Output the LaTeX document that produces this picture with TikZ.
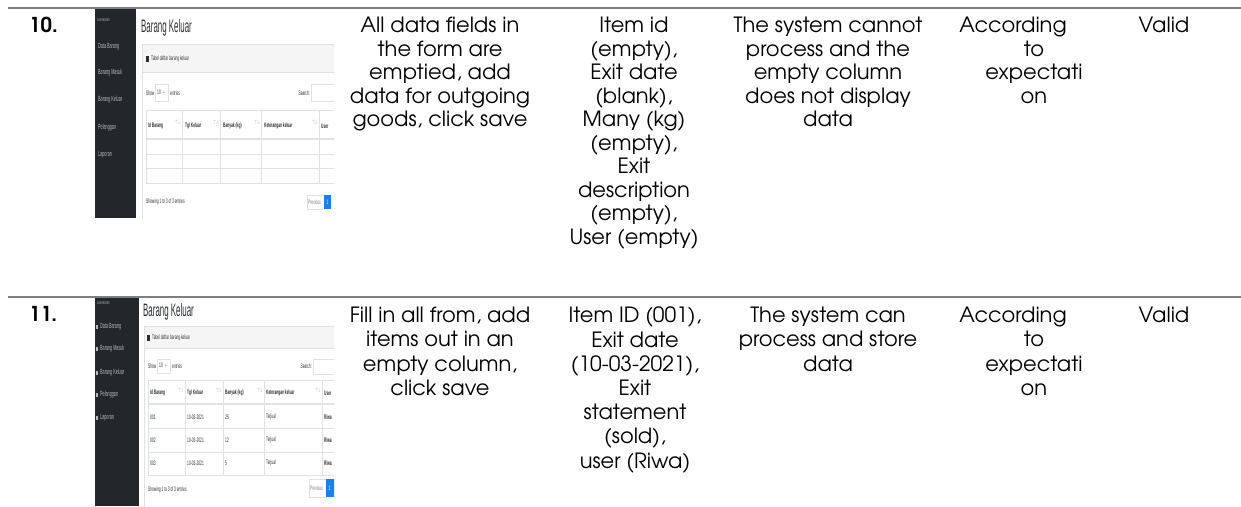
\documentclass[tikz,border=0pt]{standalone}
\usepackage{fontspec}
\setmainfont{TeX Gyre Adventor}
\newfontfamily\uifont{Liberation Sans}
\definecolor{rulegray}{HTML}{7F7F7F}
\definecolor{sidebar}{HTML}{23272B}
\definecolor{menutext}{HTML}{B4B8BC}
\definecolor{cardhead}{HTML}{F5F5F5}
\definecolor{cardline}{HTML}{E0E3E6}
\definecolor{uitext}{HTML}{2A2E33}
\definecolor{btnblue}{HTML}{1A7FF5}
\newcommand\ui[1]{\scalebox{0.5}[1]{#1}}
\tikzset{
  rule/.style={draw=rulegray, line width=1.6pt},
  cell/.style={anchor=north, align=center, inner sep=0pt, font=\fontsize{21}{23.5}\selectfont},
  cellb/.style={cell, font=\fontsize{21}{24.2}\selectfont},
  num/.style={anchor=base west, inner sep=0pt, font=\fontsize{20.5}{24}\selectfont\bfseries},
  menu/.style={anchor=west, inner sep=0pt, text=menutext, font=\uifont\fontsize{7.5}{7.5}\selectfont},
  title/.style={anchor=west, inner sep=0pt, text=uitext, font=\uifont\fontsize{18}{18}\selectfont},
  uiw/.style={anchor=west, inner sep=0pt, text=uitext, font=\uifont\fontsize{6.5}{6.5}\selectfont},
  th/.style={uiw, font=\uifont\fontsize{6.5}{6.5}\selectfont\bfseries},
  sorticon/.style={inner sep=0pt, text=gray!50, font=\fontsize{5}{5}\selectfont},
  uiline/.style={draw=cardline, line width=0.6pt},
}
\begin{document}
\begin{tikzpicture}[x=1pt, y=-1pt]
  \useasboundingbox (0,0) rectangle (1241,506);
  \fill[white] (0,0) rectangle (1241,506);

  % table rules
  \draw[rule] (8,8) -- (1241,8);
  \draw[rule] (8,297) -- (1241,297);

  % row 10
  \node[num] (N10) at (29,32) {10.};

  \begin{scope}
    \clip (95,9) rectangle (334,218);
    \fill[white] (95,9) rectangle (334,218);
    \fill[sidebar] (95,9) rectangle (136,218);
    \node[menu, font=\uifont\fontsize{4}{4}\selectfont] (M10-0) at (97,20) {\ui{DASHBOARD}};
    \foreach \y/\t [count=\i] in {47/Data Barang, 73/Barang Masuk, 100/Barang Keluar, 128/Pelanggan, 155/Laporan}
      \node[menu] (M10-\i) at (98,\y) {\ui{\t}};
    \node[title] (H10) at (141,28) {\scalebox{0.44}[1]{Barang Keluar}};
    \draw[uiline, fill=cardhead] (142,44) rectangle (345,72);
    \draw[uiline] (142,72) rectangle (345,240);
    \fill[uitext] (146,56) rectangle (149,62);
    \node[uiw] (T10) at (151,59) {\ui{Tabel daftar barang keluar}};
    \node[uiw] (SH10) at (146,93) {\ui{Show}};
    \draw[uiline] (155,84) rectangle (168,101);
    \node[uiw] (SB10) at (157,93) {\ui{10 \,$\div$}};
    \node[uiw] (EN10) at (170,93) {\ui{entries}};
    \node[uiw, anchor=east] (SR10) at (310,93) {\ui{Search:}};
    \draw[uiline] (311,84) rectangle (345,101);
    \foreach \x in {146,182,220,261,319}
      \draw[uiline] (\x,110) -- (\x,183);
    \draw[uiline] (146,110) -- (345,110);
    \draw[uiline, line width=1.4pt] (146,139) -- (345,139);
    \foreach \y in {154,168,183}
      \draw[uiline] (146,\y) -- (345,\y);
    \foreach \x/\t [count=\i] in {148/Id Barang, 185/Tgl Keluar, 223/{Banyak (kg)}, 264/Keterangan keluar, 321/User}
      \node[th] (C10-\i) at (\x,126) {\ui{\t}};
    \foreach \x [count=\i] in {178,216,257,315}
      \node[sorticon] (S10-\i) at (\x,122) {$\uparrow\!\downarrow$};
    \node[uiw] (P10) at (146,202) {\ui{Showing 1 to 3 of 3 entries}};
    \draw[uiline] (307,195) rectangle (324,209);
    \node[uiw, text=gray] (PV10) at (308,202) {\ui{Previous}};
    \fill[btnblue] (324,195) rectangle (331,209);
    \node[uiw, text=white] (B10) at (326.5,202) {\ui{1}};
  \end{scope}

  \node[cell] (D10) at (440,17) {All data fields in\\the form are\\emptied, add\\data for outgoing\\goods, click save};
  \node[cell] (I10) at (634,17) {Item id\\(empty),\\Exit date\\(blank),\\Many (kg)\\(empty),\\Exit\\description\\(empty),\\User (empty)};
  \node[cell] (E10) at (828,17) {The system cannot\\process and the\\empty column\\does not display\\data};
  \node[cell] (R10) at (1034,17) {According\hspace*{42pt}\\to\\expectati\\on};
  \node[cell] (V10) at (1164,17) {Valid};

  % row 11
  \node[num] (N11) at (29,321) {11.};

  \begin{scope}
    \clip (95,298) rectangle (334,506);
    \fill[white] (95,298) rectangle (334,506);
    \fill[sidebar] (95,298) rectangle (139,506);
    \node[menu, font=\uifont\fontsize{4}{4}\selectfont] (M11-0) at (97,303) {\ui{DASHBOARD}};
    \foreach \y/\t [count=\i] in {327/Data Barang, 349/Barang Masuk, 373/Barang Keluar, 395/Pelanggan, 418/Laporan} {
      \fill[menutext] (96,\y-2) rectangle (98,\y+2);
      \node[menu] (M11-\i) at (100,\y) {\ui{\t}};
    }
    \node[title] (H11) at (143,312) {\scalebox{0.44}[1]{Barang Keluar}};
    \draw[uiline, fill=cardhead] (144,326) rectangle (345,348);
    \draw[uiline] (144,348) rectangle (345,520);
    \fill[uitext] (147,335) rectangle (150,341);
    \node[uiw] (T11) at (152,338) {\ui{Tabel daftar barang keluar}};
    \node[uiw] (SH11) at (148,366) {\ui{Show}};
    \draw[uiline] (157,359) rectangle (170,373);
    \node[uiw] (SB11) at (159,366) {\ui{10 \,$\div$}};
    \node[uiw] (EN11) at (172,366) {\ui{entries}};
    \node[uiw, anchor=east] (SR11) at (312,366) {\ui{Search:}};
    \draw[uiline] (313,359) rectangle (345,374);
    \foreach \x in {148,185,223,264,322}
      \draw[uiline] (\x,380) -- (\x,475);
    \draw[uiline] (148,380) -- (345,380);
    \draw[uiline, line width=1.4pt] (148,404) -- (345,404);
    \foreach \y in {428,452,475}
      \draw[uiline] (148,\y) -- (345,\y);
    \foreach \x/\t [count=\i] in {150/Id Barang, 187/Tgl Keluar, 225/{Banyak (kg)}, 266/Keterangan keluar, 324/User}
      \node[th] (C11-\i) at (\x,393) {\ui{\t}};
    \foreach \x [count=\i] in {181,219,260,318}
      \node[sorticon] (S11-\i) at (\x,390) {$\uparrow\!\downarrow$};
    \foreach \y/\a/\b in {417/001/25, 440/002/12, 463/003/5} {
      \node[uiw] (R\a-1) at (150,\y) {\ui{\a}};
      \node[uiw] (R\a-2) at (187,\y) {\ui{10-03-2021}};
      \node[uiw] (R\a-3) at (225,\y) {\ui{\b}};
      \node[uiw] (R\a-4) at (266,\y) {\ui{Terjual}};
      \node[uiw, font=\uifont\fontsize{6.5}{6.5}\selectfont\bfseries] (R\a-5) at (324,\y) {\ui{Riwa}};
    }
    \node[uiw] (P11) at (148,490) {\ui{Showing 1 to 3 of 3 entries}};
    \draw[uiline] (309,479) rectangle (326,497);
    \node[uiw, text=gray] (PV11) at (310,488) {\ui{Previous}};
    \fill[btnblue] (326,479) rectangle (336,497);
    \node[uiw, text=white] (B11) at (328.5,488) {\ui{1}};
  \end{scope}

  \node[cellb] (D11) at (440,307) {Fill in all from, add\\items out in an\\empty column,\\click save};
  \node[cellb] (I11) at (635,307) {Item ID (001),\\Exit date\\(10-03-2021),\\Exit\\statement\\(sold),\\user (Riwa)};
  \node[cellb] (E11) at (828,307) {The system can\\process and store\\data};
  \node[cellb] (R11) at (1034,307) {According\hspace*{42pt}\\to\\expectati\\on};
  \node[cellb] (V11) at (1164,307) {Valid};
\end{tikzpicture}
\end{document}
